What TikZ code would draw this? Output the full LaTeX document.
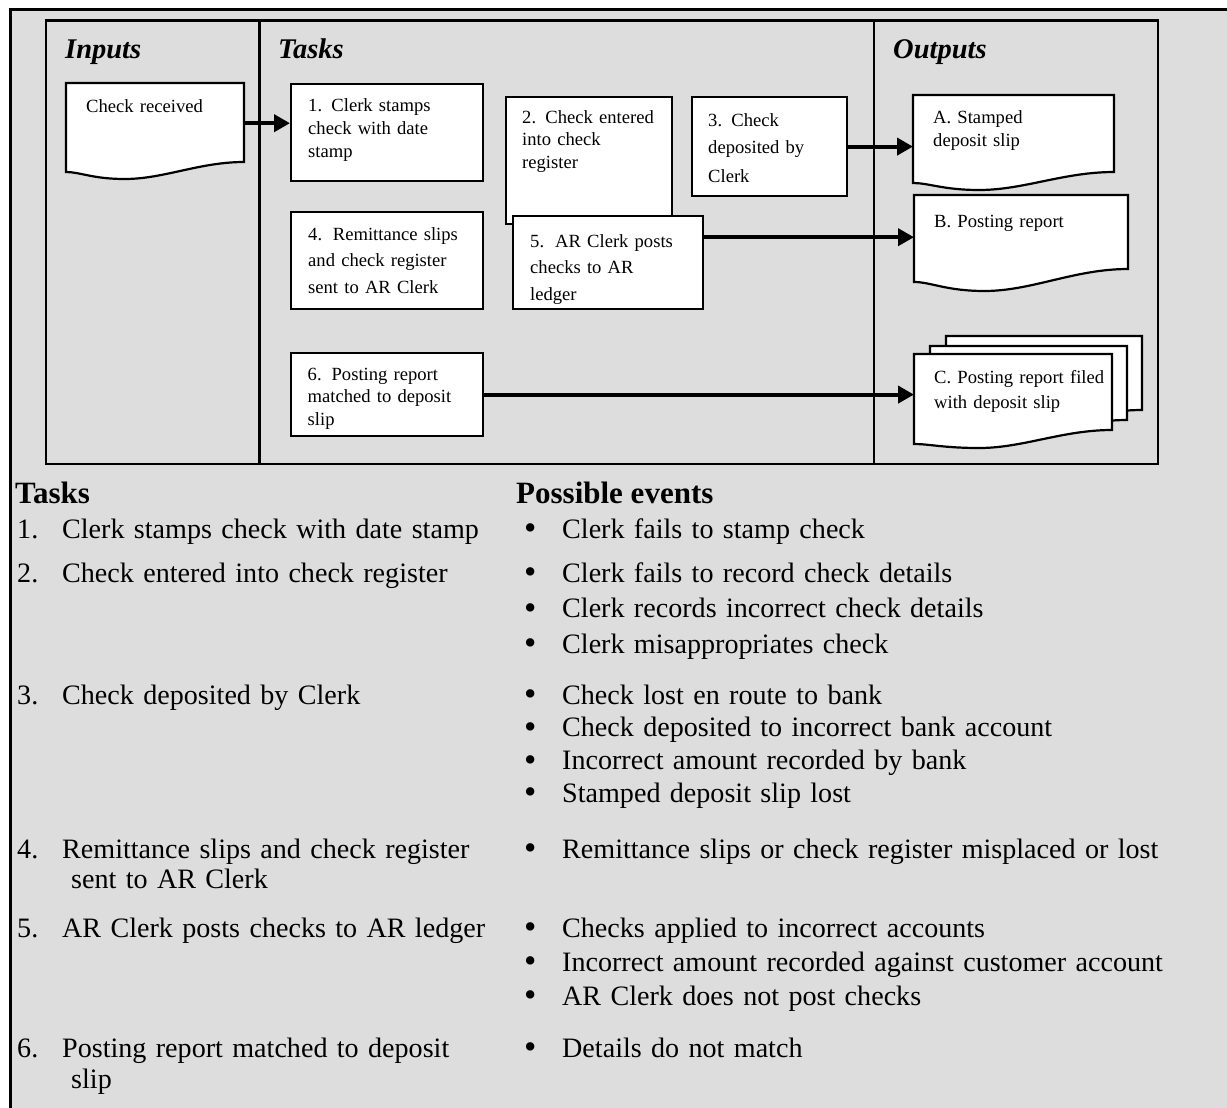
\documentclass[tikz,border=0pt]{standalone}
\usepackage{fontspec}
\usepackage{graphicx}
\setmainfont{Liberation Serif}
\usetikzlibrary{arrows.meta}
\definecolor{panelgray}{RGB}{221,221,221}

% document sheet with a wavy lower edge:
% #1 left, #2 right, #3 top, #4 bottom at right, #5 bottom at left, #6 lowest point of the wave
\newcommand\docsheet[6]{%
  \filldraw[docline] (#1,#3) -- (#2,#3) -- (#2,#4)
    .. controls ({#2-0.25*(#2-#1)},#4) and ({#1+0.55*(#2-#1)},#6) .. ({#1+0.33*(#2-#1)},#6)
    .. controls ({#1+0.15*(#2-#1)},#6) and ({#1+0.08*(#2-#1)},#5) .. (#1,#5) -- cycle;}
\newcommand\tnum[1]{\makebox[45pt][l]{#1}}
\newcommand\evt{\makebox[38pt][l]{\raisebox{-0.06em}{\scalebox{1.25}{\textbullet}}}}

\tikzset{
  lane/.style={draw=black, line width=2.2pt},
  taskbox/.style={draw=black, fill=white, line width=2.2pt, anchor=north west, inner sep=0pt},
  docline/.style={draw=black, fill=white, line width=2.2pt, line join=miter},
  docarea/.style={anchor=north west, inner sep=0pt, draw=none},
  boxtext/.style={anchor=base west, inner sep=0pt, text width=190pt, align=left},
  lanetitle/.style={anchor=base west, inner sep=0pt, font=\fontsize{28.5}{32}\selectfont\bfseries\itshape},
  tabhead/.style={anchor=base west, inner sep=0pt, font=\fontsize{31}{34}\selectfont\bfseries},
  tabtext/.style={anchor=base west, inner sep=0pt, text width=#1, align=left},
  flow/.style={line width=4.2pt, -{Triangle[length=16pt,width=17pt]}},
}

\begin{document}
\begin{tikzpicture}[x=1pt, y=-1pt]
\useasboundingbox (0,0) rectangle (1227,1108);

% page panel
\fill[panelgray] (10.5,9.5) rectangle (1227,1108);
\draw[line width=3.5pt] (10.5,1108) -- (10.5,9.5) -- (1227,9.5);

% swimlanes
\draw[lane] (46,20.5) rectangle (1158,464);
\draw[lane] (259.5,20.5) -- (259.5,464);
\draw[lane] (874,20.5) -- (874,464);
\node[lanetitle] (lin) at (65,59) {Inputs};
\node[lanetitle] (ltask) at (278,59) {Tasks};
\node[lanetitle] (lout) at (893,59) {Outputs};

% input document
\node[docarea, minimum width=178pt, minimum height=80pt] (chk) at (66,83) {};
\docsheet{66}{244}{83}{162}{172}{179}
\node[boxtext, font=\fontsize{18.6}{23}\selectfont] (chkt) at (86,113) {Check received};

% tasks
\node[taskbox, minimum width=192pt, minimum height=97pt] (b1) at (290,83) {};
\node[boxtext, font=\fontsize{18.6}{23}\selectfont] (b1t) at (308,111) {1. Clerk stamps\\check with date\\stamp};

\node[taskbox, minimum width=166pt, minimum height=127pt] (b2) at (505,96) {};
\node[boxtext, font=\fontsize{18.6}{22}\selectfont] (b2t) at (522,124) {2. Check entered\\into check\\register};

\node[taskbox, minimum width=155pt, minimum height=99pt] (b3) at (691,96) {};
\node[boxtext, font=\fontsize{18.6}{28}\selectfont] (b3t) at (708,126) {3. Check\\deposited by\\Clerk};

\node[taskbox, minimum width=192pt, minimum height=97pt] (b4) at (290,211) {};
\node[boxtext, font=\fontsize{18.6}{26.5}\selectfont] (b4t) at (308,240) {4.\hspace{10.75pt}Remittance slips\\and check register\\sent to AR Clerk};

\node[taskbox, minimum width=190pt, minimum height=93pt] (b5) at (512,215) {};
\node[boxtext, font=\fontsize{18.6}{26.5}\selectfont] (b5t) at (530,247) {5.\hspace{11pt}AR Clerk posts\\checks to AR\\ledger};

\node[taskbox, minimum width=192pt, minimum height=83pt] (b6) at (290,352) {};
\node[boxtext, font=\fontsize{18.6}{22.5}\selectfont] (b6t) at (307.5,380) {6.\hspace{10pt}Posting report\\matched to deposit\\slip};

% output documents
\node[docarea, minimum width=201pt, minimum height=100pt] (docA) at (913,95) {};
\docsheet{913}{1114}{95}{172}{183}{190}
\node[boxtext, font=\fontsize{18.6}{23}\selectfont] (docAt) at (933,124) {A. Stamped\\deposit slip};

\node[docarea, minimum width=214pt, minimum height=84pt] (docB) at (914,195) {};
\docsheet{914}{1128}{195}{269}{282}{291}
\node[boxtext, font=\fontsize{18.6}{23}\selectfont] (docBt) at (934,227) {B. Posting report};

\node[docarea, minimum width=198pt, minimum height=80pt] (docC) at (914,354) {};
\docsheet{946}{1142}{336}{410}{424}{428}
\docsheet{930}{1127}{346}{420}{434}{438}
\docsheet{914}{1112}{354}{430}{444}{448}
\node[boxtext, font=\fontsize{18.6}{25}\selectfont] (docCt) at (934,383) {C. Posting report filed\\with deposit slip};

% flows
\draw[flow] (chk.east) -- (chk.east -| b1.west);
\draw[flow] (b3.east) -- (b3.east -| docA.west);
\draw[flow] (docB.west -| b5.east) -- (docB.west);
\draw[flow] (b6.east) -- (b6.east -| docC.west);

% task / event table
\node[tabhead] (hT) at (15,503) {Tasks};
\node[tabhead] (hE) at (516,503) {Possible events};

\node[tabtext=480pt, font=\fontsize{28.1}{34}\selectfont] (t1) at (17,538) {\tnum{1.}Clerk stamps check with date stamp};
\node[tabtext=480pt, font=\fontsize{28.1}{34}\selectfont] (t2) at (17,582) {\tnum{2.}Check entered into check register};
\node[tabtext=480pt, font=\fontsize{28.1}{34}\selectfont] (t3) at (17,704) {\tnum{3.}Check deposited by Clerk};
\node[tabtext=480pt, font=\fontsize{28.1}{30}\selectfont] (t4) at (17,858) {\tnum{4.}Remittance slips and check register\\\hspace*{54pt}sent to AR Clerk};
\node[tabtext=480pt, font=\fontsize{28.1}{34}\selectfont] (t5) at (17,937) {\tnum{5.}AR Clerk posts checks to AR ledger};
\node[tabtext=480pt, font=\fontsize{28.1}{31}\selectfont] (t6) at (17,1057) {\tnum{6.}Posting report matched to deposit\\\hspace*{54pt}slip};

\node[tabtext=700pt, font=\fontsize{28.1}{34}\selectfont] (e1) at (524,538) {\evt Clerk fails to stamp check};
\node[tabtext=700pt, font=\fontsize{28.1}{35.5}\selectfont] (e2) at (524,582) {\evt Clerk fails to record check details\\\evt Clerk records incorrect check details\\\evt Clerk misappropriates check};
\node[tabtext=700pt, font=\fontsize{28.1}{32.7}\selectfont] (e3) at (524,704) {\evt Check lost en route to bank\\\evt Check deposited to incorrect bank account\\\evt Incorrect amount recorded by bank\\\evt Stamped deposit slip lost};
\node[tabtext=700pt, font=\fontsize{28.1}{34}\selectfont] (e4) at (524,858) {\evt Remittance slips or check register misplaced or lost};
\node[tabtext=700pt, font=\fontsize{28.1}{34}\selectfont] (e5) at (524,937) {\evt Checks applied to incorrect accounts\\\evt Incorrect amount recorded against customer account\\\evt AR Clerk does not post checks};
\node[tabtext=700pt, font=\fontsize{28.1}{34}\selectfont] (e6) at (524,1057) {\evt Details do not match};
\end{tikzpicture}
\end{document}
